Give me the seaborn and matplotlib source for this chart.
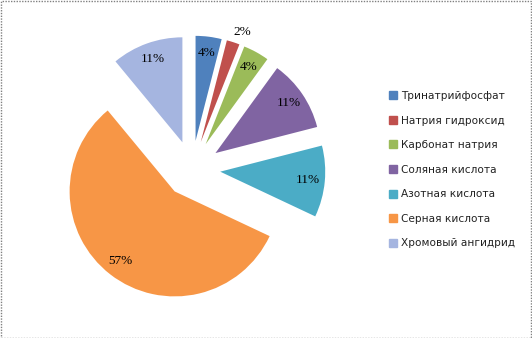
import matplotlib
matplotlib.use("Agg")
import matplotlib.pyplot as plt
from matplotlib.lines import Line2D
from matplotlib.patches import Rectangle
import seaborn as sns

categories = ["Тринатрийфосфат", "Натрия гидроксид", "Карбонат натрия",
              "Соляная кислота", "Азотная кислота", "Серная кислота",
              "Хромовый ангидрид"]
values = [4, 2, 4, 11, 11, 57, 11]
colors = ["#4F81BD", "#C0504D", "#9BBB59", "#8064A2", "#4BACC6", "#F79646", "#A5B5E0"]

sns.set_theme(style="white")
plt.rcParams['font.family'] = ['DejaVu Sans']

W, H = 532, 338
fig = plt.figure(figsize=(W / 100, H / 100), dpi=100)
ax = fig.add_axes([0, 0, 1, 1])
R = 105.0
cx, cy = 192.0, 169.0

wedges, texts, autotexts = ax.pie(
    values, colors=colors, startangle=90, counterclock=False,
    explode=[0.27] * len(values), autopct='%1.0f%%', pctdistance=0.84,
    radius=1.0, textprops=dict(family='Liberation Serif', fontsize=9.5, color='black'),
    wedgeprops=dict(linewidth=0), frame=True)
ax.set_xlim(-cx / R, (W - cx) / R)
ax.set_ylim(-(H - cy) / R, cy / R)
ax.set_axis_off()

# 2% label sits outside its wedge
autotexts[1].set_position(((242 - cx) / R, (cy - 32) / R))

handles = [Line2D([0], [0], marker='s', linestyle='none', markersize=6,
                  markerfacecolor=c, markeredgecolor=c) for c in colors]
leg = fig.legend(handles, categories, loc='upper left',
                 bbox_to_anchor=(389 / W, 1 - 91 / H), frameon=False,
                 prop=dict(family='DejaVu Sans', size=7.6),
                 handlelength=0.7, handletextpad=0.45, labelspacing=1.38,
                 borderaxespad=0, borderpad=0)
for txt in leg.get_texts():
    txt.set_color('#222222')

fig.patches.append(Rectangle((1 / W, 0.5 / H), (W - 2) / W, (H - 1.5) / H,
                             transform=fig.transFigure, fill=False,
                             edgecolor='#808080', linewidth=1.0,
                             linestyle=(0, (1, 1))))

fig.savefig("out.png", dpi=100)
